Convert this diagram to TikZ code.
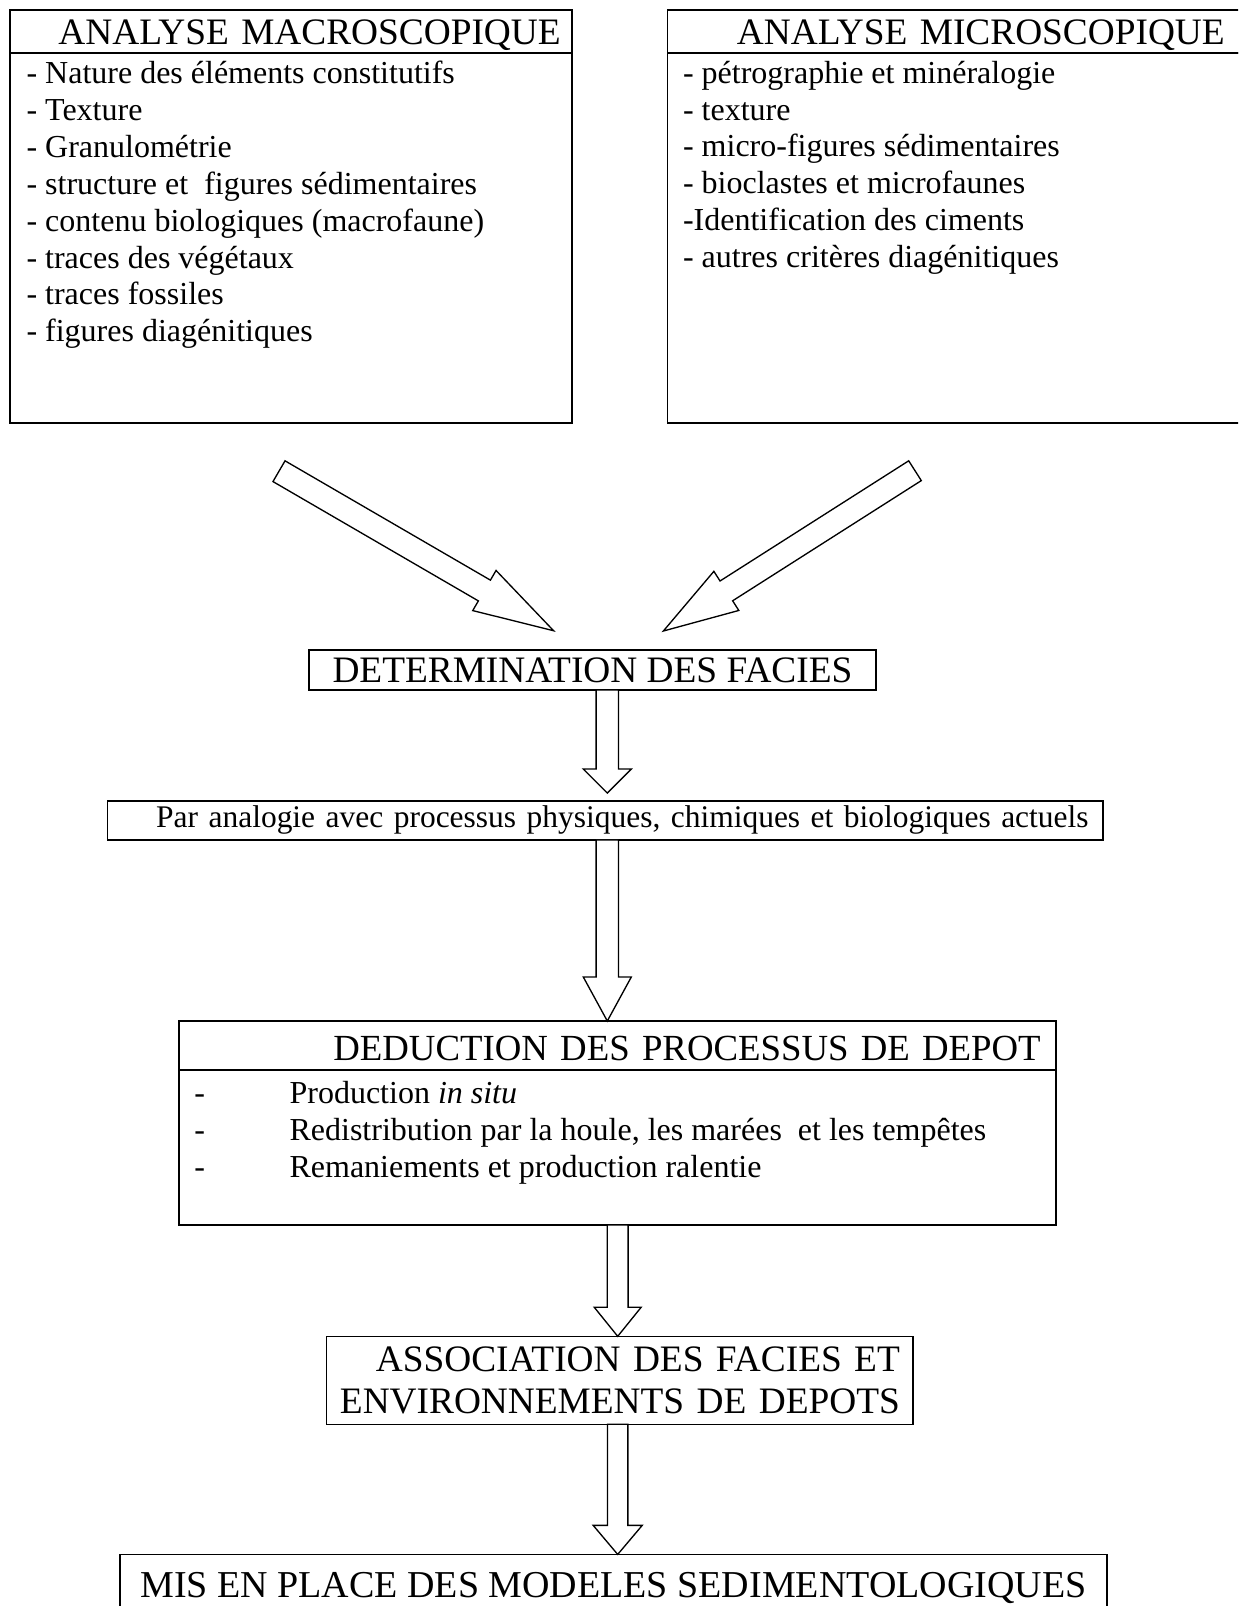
\documentclass[tikz,border=0pt]{standalone}
\usepackage{fontspec}
\setmainfont{Liberation Serif}
\usetikzlibrary{positioning, calc}

% hollow block arrow: tail, tip, half shaft, half head, head length
\newcommand{\fatarrow}[5]{%
  \path (#1) coordinate (fa-s) (#2) coordinate (fa-e);
  \coordinate (fa-b) at ($(fa-e)!#5!(fa-s)$);
  \draw[fat] ($(fa-s)!#3!90:(fa-e)$) -- ($(fa-b)!#3!90:(fa-e)$) -- ($(fa-b)!#4!90:(fa-e)$)
    -- (fa-e) -- ($(fa-b)!#4!-90:(fa-e)$) -- ($(fa-b)!#3!-90:(fa-e)$) -- ($(fa-s)!#3!-90:(fa-e)$) -- cycle;
}

\begin{document}
\begin{tikzpicture}[x=0.375pt, y=-0.375pt, outer sep=0pt,
  headbox/.style={draw, line width=0.6pt, inner xsep=0pt, inner ysep=0pt, text width=#1, minimum height=16.1pt, text height=13.1pt, text depth=3pt, align=left, font=\fontsize{14}{16}\selectfont},
  bodybox/.style={draw, line width=0.6pt, minimum width=#1, minimum height=138.75pt, inner sep=0pt},
  listtext/.style={inner sep=0pt, align=left, font=\fontsize{12}{13.84}\selectfont, execute at begin node=\strut},
  stepbox/.style={draw, line width=0.6pt, inner ysep=0pt, font=\fontsize{14}{16}\selectfont},
  fat/.style={line width=0.5pt, fill=white, line join=miter}
]
  \useasboundingbox (0,0) rectangle (1238,1606);
  \clip (0,0) rectangle (1238,1606);

  % analyses
  \node[headbox=210.75pt, anchor=north west] (macroHead) at (10,10) {\hspace*{18.15pt}ANALYSE MACROSCOPIQUE};
  \node[bodybox=210.75pt, below=0pt of macroHead] (macroBody) {};
  \node[listtext, anchor=north west] (macroList) at ([xshift=6.2pt, yshift=-3pt]macroBody.north west)
    {- Nature des éléments constitutifs\\- Texture\\- Granulométrie\\- structure et~ figures sédimentaires\\- contenu biologiques (macrofaune)\\- traces des végétaux\\- traces fossiles\\- figures diagénitiques};

  \node[headbox=222.15pt, right=35.85pt of macroHead] (microHead) {\hspace*{26pt}ANALYSE MICROSCOPIQUE};
  \node[bodybox=222.15pt, below=0pt of microHead] (microBody) {};
  \node[listtext, anchor=north west] (microList) at ([xshift=5.8pt, yshift=-3pt]microBody.north west)
    {- pétrographie et minéralogie\\- texture\\- micro-figures sédimentaires\\- bioclastes et microfaunes\\-Identification des ciments\\- autres critères diagénitiques};

  % chain
  \node[stepbox, minimum width=212.6pt, minimum height=15pt, anchor=north west] (facies) at (309,650) {DETERMINATION DES FACIES};
  \node[stepbox, inner xsep=5.4pt, text width=362.5pt, align=right, minimum height=14.6pt, font=\fontsize{11.8}{13.84}\selectfont\frenchspacing, anchor=north west] (analog) at (107.5,801)
    {Par analogie avec processus physiques, chimiques et biologiques actuels};

  \node[headbox=317.5pt, inner xsep=5.6pt, align=right, minimum height=18.4pt, text height=14.65pt, text depth=3.75pt, font=\fontsize{13.8}{16}\selectfont, anchor=north west] (dedHead) at (179.2,1021) {DEDUCTION DES PROCESSUS DE DEPOT};
  \node[bodybox=328.7pt, minimum height=58.1pt, below=0pt of dedHead] (dedBody) {};
  \node[listtext, anchor=north west] (dedList) at ([xshift=5.7pt, yshift=-4.2pt]dedBody.north west)
    {\makebox[35.7pt][l]{-}Production \textit{in situ}\\\makebox[35.7pt][l]{-}Redistribution par la houle, les marées~ et les tempêtes\\\makebox[35.7pt][l]{-}Remaniements et production ralentie};

  \node[stepbox, inner xsep=5pt, text width=210pt, align=right, minimum height=33pt, anchor=north west] (assoc) at (326.6,1336.3)
    {ASSOCIATION DES FACIES ET\\ENVIRONNEMENTS DE DEPOTS};
  \node[stepbox, minimum width=370.2pt, minimum height=25.1pt, font=\fontsize{14.25}{16}\selectfont, anchor=north west] (models) at (119.8,1554.4) {MIS EN PLACE DES MODELES SEDIMENTOLOGIQUES};

  % arrows
  \coordinate (macroTail) at (279,471.2);
  \coordinate (microTail) at (915,470.7);
  \coordinate (colA) at (607.3,0);
  \coordinate (colB) at (617.7,0);

  \fatarrow{macroTail}{$(facies.north)+(-38.9,-19.3)$}{4.5pt}{8.7pt}{30pt}
  \fatarrow{microTail}{$(facies.north)+(70.9,-19)$}{4.4pt}{8.7pt}{28pt}
  \fatarrow{facies.south -| colA}{$(analog.north -| colA)+(0,-8)$}{4.2pt}{9pt}{9pt}
  \fatarrow{analog.south -| colA}{dedHead.north -| colA}{4.2pt}{9pt}{16.5pt}
  \fatarrow{dedBody.south -| colB}{assoc.north -| colB}{3.9pt}{8.8pt}{10.9pt}
  \fatarrow{assoc.south -| colB}{models.north -| colB}{3.8pt}{9.2pt}{10.9pt}
\end{tikzpicture}
\end{document}
